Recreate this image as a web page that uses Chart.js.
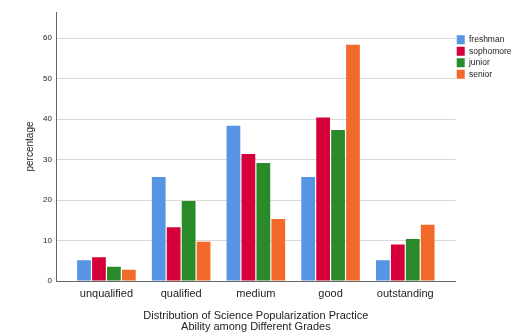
<!DOCTYPE html>
<html>
<head>
<meta charset="utf-8">
<script src="https://cdn.jsdelivr.net/npm/chart.js@4"></script>
<style>
  html, body { margin: 0; padding: 0; background: #fff; }
  #wrap { width: 512px; height: 334px; }
</style>
</head>
<body>
<div id="wrap"><canvas id="gradeChart" width="512" height="334"></canvas></div>
<script>
// categories and series
const levels = ["unqualified", "qualified", "medium", "good", "outstanding"]
const freshman = [5.1, 25.7, 38.4, 25.7, 5.1]
const sophomore = [5.9, 13.3, 31.4, 40.4, 9.0]
const junior = [3.5, 19.8, 29.2, 37.3, 10.4]
const senior = [2.8, 9.7, 15.3, 58.4, 13.9]
const yTicks = [0, 10, 20, 30, 40, 50, 60]

// bar chart on a linear x scale so the categories can sit inside a wider axis
function points(values) {
  return values.map((v, i) => ({ x: i, y: v }))
}

const font = "Liberation Sans, Arial, sans-serif"

// legend sits right against the plot, nudge it after layout
const legendNudge = {
  id: "legendNudge",
  afterLayout(chart) {
    const lg = chart.legend
    const w = lg.right - lg.left
    lg.left = chart.chartArea.right - 1.5
    lg.right = lg.left + w
  }
}

new Chart("gradeChart", {
  type: "bar",
  data: {
    datasets: [
      { label: "freshman", data: points(freshman), backgroundColor: "#5595e3" },
      { label: "sophomore", data: points(sophomore), backgroundColor: "#d5003a" },
      { label: "junior", data: points(junior), backgroundColor: "#2a8a2a" },
      { label: "senior", data: points(senior), backgroundColor: "#f2692a" }
    ]
  },
  options: {
    responsive: false,
    animation: false,
    layout: { padding: { top: 12, right: -11, bottom: 0, left: 0 } },
    datasets: {
      bar: { categoryPercentage: 0.8, barPercentage: 0.92, borderWidth: 0 }
    },
    scales: {
      x: {
        type: "linear",
        offset: false,
        min: -0.675,
        max: 4.675,
        afterFit: scale => { scale.height = 53 },
        afterBuildTicks: scale => {
          scale.ticks = levels.map((l, i) => ({ value: i }))
        },
        grid: { display: false },
        border: { display: true, color: "#666", width: 1 },
        ticks: {
          color: "#222",
          font: { family: font, size: 11 },
          padding: -2,
          maxRotation: 0,
          autoSkip: false,
          callback: v => levels[v]
        },
        title: {
          display: true,
          text: ["Distribution of Science Popularization Practice", "Ability among Different Grades"],
          color: "#222",
          font: { family: font, size: 11, lineHeight: 1.0 },
          padding: { top: 12, bottom: 2 }
        }
      },
      y: {
        min: 0,
        max: 66.5,
        afterFit: scale => { scale.width = 56 },
        afterBuildTicks: scale => {
          scale.ticks = yTicks.map(v => ({ value: v }))
        },
        grid: { color: "#d9d9d9", lineWidth: 1, drawTicks: false },
        border: { display: true, color: "#666", width: 1 },
        ticks: {
          color: "#222",
          font: { family: font, size: 8 },
          padding: 4
        },
        title: {
          display: true,
          text: "percentage",
          color: "#222",
          font: { family: font, size: 10 },
          padding: { top: 24, bottom: 0 }
        }
      }
    },
    plugins: {
      tooltip: { enabled: false },
      legend: {
        position: "right",
        align: "start",
        title: { display: true, text: " ", font: { size: 9 }, padding: 5 },
        labels: {
          boxWidth: 8,
          boxHeight: 9,
          padding: 2.5,
          color: "#222",
          font: { family: font, size: 8.5 }
        }
      }
    }
  },
  plugins: [legendNudge]
})
</script>
</body>
</html>
